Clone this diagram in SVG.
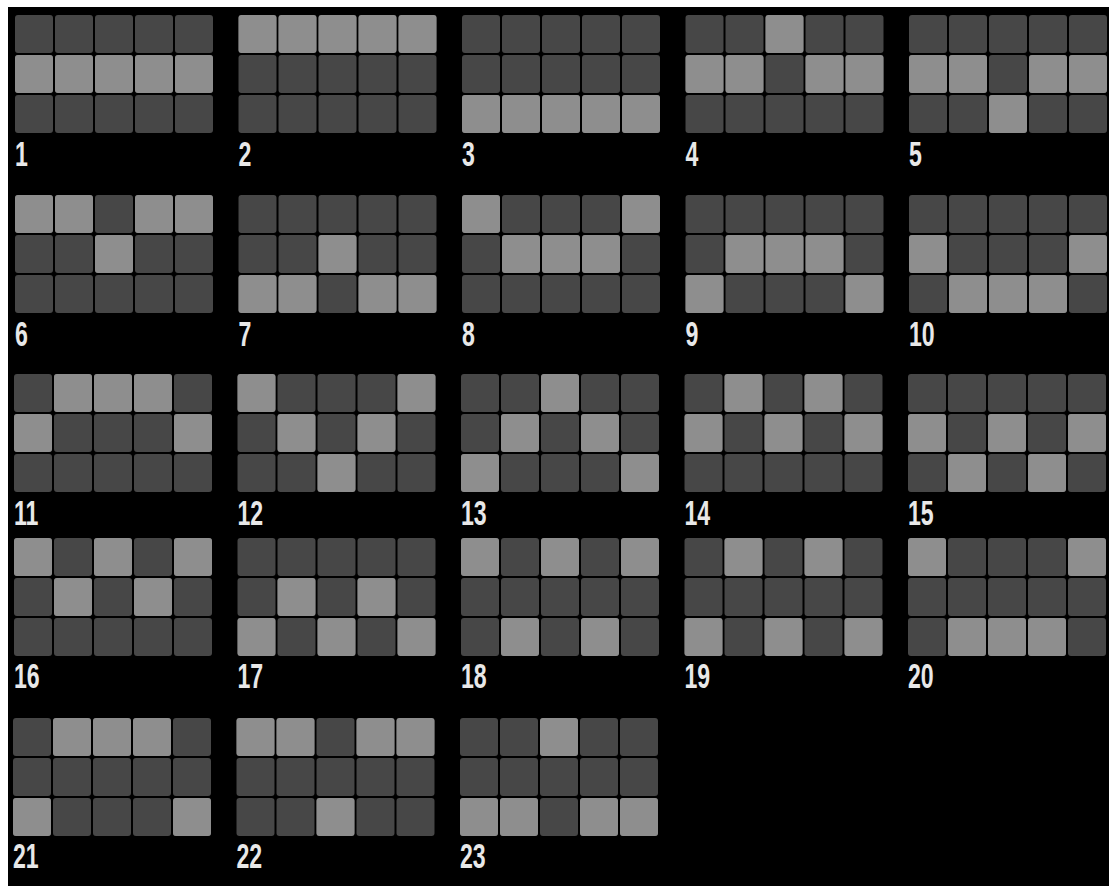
<svg xmlns="http://www.w3.org/2000/svg" xmlns:xlink="http://www.w3.org/1999/xlink" width="1109" height="886" viewBox="0 0 1109 886">
<style>
.cell{fill:#474747}
.on{fill:#8e8e8e}
.lbl{font-family:"Liberation Sans",Arial,sans-serif;font-size:35px;font-weight:bold;fill:#e8e8e8}
</style>
<defs>
<g id="base">
<rect class="cell" x="0" y="0" width="38" height="38" rx="3"/><rect class="cell" x="40" y="0" width="38" height="38" rx="3"/><rect class="cell" x="80" y="0" width="38" height="38" rx="3"/><rect class="cell" x="120" y="0" width="38" height="38" rx="3"/><rect class="cell" x="160" y="0" width="38" height="38" rx="3"/>
<rect class="cell" x="0" y="40" width="38" height="38" rx="3"/><rect class="cell" x="40" y="40" width="38" height="38" rx="3"/><rect class="cell" x="80" y="40" width="38" height="38" rx="3"/><rect class="cell" x="120" y="40" width="38" height="38" rx="3"/><rect class="cell" x="160" y="40" width="38" height="38" rx="3"/>
<rect class="cell" x="0" y="80" width="38" height="38" rx="3"/><rect class="cell" x="40" y="80" width="38" height="38" rx="3"/><rect class="cell" x="80" y="80" width="38" height="38" rx="3"/><rect class="cell" x="120" y="80" width="38" height="38" rx="3"/><rect class="cell" x="160" y="80" width="38" height="38" rx="3"/>
</g>
</defs>
<rect x="0" y="0" width="1109" height="886" fill="#ffffff"/>
<rect x="8" y="7" width="1101" height="879" fill="#000000"/>

<g id="line-1" transform="translate(15,15)"><use xlink:href="#base"/>
<rect class="on" x="0" y="40" width="38" height="38" rx="3"/><rect class="on" x="40" y="40" width="38" height="38" rx="3"/><rect class="on" x="80" y="40" width="38" height="38" rx="3"/><rect class="on" x="120" y="40" width="38" height="38" rx="3"/><rect class="on" x="160" y="40" width="38" height="38" rx="3"/>
<text class="lbl" transform="translate(0,151) scale(0.66,1)">1</text></g>

<g id="line-2" transform="translate(238.5,15)"><use xlink:href="#base"/>
<rect class="on" x="0" y="0" width="38" height="38" rx="3"/><rect class="on" x="40" y="0" width="38" height="38" rx="3"/><rect class="on" x="80" y="0" width="38" height="38" rx="3"/><rect class="on" x="120" y="0" width="38" height="38" rx="3"/><rect class="on" x="160" y="0" width="38" height="38" rx="3"/>
<text class="lbl" transform="translate(0,151) scale(0.66,1)">2</text></g>

<g id="line-3" transform="translate(462,15)"><use xlink:href="#base"/>
<rect class="on" x="0" y="80" width="38" height="38" rx="3"/><rect class="on" x="40" y="80" width="38" height="38" rx="3"/><rect class="on" x="80" y="80" width="38" height="38" rx="3"/><rect class="on" x="120" y="80" width="38" height="38" rx="3"/><rect class="on" x="160" y="80" width="38" height="38" rx="3"/>
<text class="lbl" transform="translate(0,151) scale(0.66,1)">3</text></g>

<g id="line-4" transform="translate(685.5,15)"><use xlink:href="#base"/>
<rect class="on" x="0" y="40" width="38" height="38" rx="3"/><rect class="on" x="40" y="40" width="38" height="38" rx="3"/><rect class="on" x="80" y="0" width="38" height="38" rx="3"/><rect class="on" x="120" y="40" width="38" height="38" rx="3"/><rect class="on" x="160" y="40" width="38" height="38" rx="3"/>
<text class="lbl" transform="translate(0,151) scale(0.66,1)">4</text></g>

<g id="line-5" transform="translate(909,15)"><use xlink:href="#base"/>
<rect class="on" x="0" y="40" width="38" height="38" rx="3"/><rect class="on" x="40" y="40" width="38" height="38" rx="3"/><rect class="on" x="80" y="80" width="38" height="38" rx="3"/><rect class="on" x="120" y="40" width="38" height="38" rx="3"/><rect class="on" x="160" y="40" width="38" height="38" rx="3"/>
<text class="lbl" transform="translate(0,151) scale(0.66,1)">5</text></g>

<g id="line-6" transform="translate(15,195)"><use xlink:href="#base"/>
<rect class="on" x="0" y="0" width="38" height="38" rx="3"/><rect class="on" x="40" y="0" width="38" height="38" rx="3"/><rect class="on" x="80" y="40" width="38" height="38" rx="3"/><rect class="on" x="120" y="0" width="38" height="38" rx="3"/><rect class="on" x="160" y="0" width="38" height="38" rx="3"/>
<text class="lbl" transform="translate(0,151) scale(0.66,1)">6</text></g>

<g id="line-7" transform="translate(238.5,195)"><use xlink:href="#base"/>
<rect class="on" x="0" y="80" width="38" height="38" rx="3"/><rect class="on" x="40" y="80" width="38" height="38" rx="3"/><rect class="on" x="80" y="40" width="38" height="38" rx="3"/><rect class="on" x="120" y="80" width="38" height="38" rx="3"/><rect class="on" x="160" y="80" width="38" height="38" rx="3"/>
<text class="lbl" transform="translate(0,151) scale(0.66,1)">7</text></g>

<g id="line-8" transform="translate(462,195)"><use xlink:href="#base"/>
<rect class="on" x="0" y="0" width="38" height="38" rx="3"/><rect class="on" x="40" y="40" width="38" height="38" rx="3"/><rect class="on" x="80" y="40" width="38" height="38" rx="3"/><rect class="on" x="120" y="40" width="38" height="38" rx="3"/><rect class="on" x="160" y="0" width="38" height="38" rx="3"/>
<text class="lbl" transform="translate(0,151) scale(0.66,1)">8</text></g>

<g id="line-9" transform="translate(685.5,195)"><use xlink:href="#base"/>
<rect class="on" x="0" y="80" width="38" height="38" rx="3"/><rect class="on" x="40" y="40" width="38" height="38" rx="3"/><rect class="on" x="80" y="40" width="38" height="38" rx="3"/><rect class="on" x="120" y="40" width="38" height="38" rx="3"/><rect class="on" x="160" y="80" width="38" height="38" rx="3"/>
<text class="lbl" transform="translate(0,151) scale(0.66,1)">9</text></g>

<g id="line-10" transform="translate(909,195)"><use xlink:href="#base"/>
<rect class="on" x="0" y="40" width="38" height="38" rx="3"/><rect class="on" x="40" y="80" width="38" height="38" rx="3"/><rect class="on" x="80" y="80" width="38" height="38" rx="3"/><rect class="on" x="120" y="80" width="38" height="38" rx="3"/><rect class="on" x="160" y="40" width="38" height="38" rx="3"/>
<text class="lbl" transform="translate(0,151) scale(0.66,1)">10</text></g>

<g id="line-11" transform="translate(14,374)"><use xlink:href="#base"/>
<rect class="on" x="0" y="40" width="38" height="38" rx="3"/><rect class="on" x="40" y="0" width="38" height="38" rx="3"/><rect class="on" x="80" y="0" width="38" height="38" rx="3"/><rect class="on" x="120" y="0" width="38" height="38" rx="3"/><rect class="on" x="160" y="40" width="38" height="38" rx="3"/>
<text class="lbl" transform="translate(0,151) scale(0.66,1)">11</text></g>

<g id="line-12" transform="translate(237.5,374)"><use xlink:href="#base"/>
<rect class="on" x="0" y="0" width="38" height="38" rx="3"/><rect class="on" x="40" y="40" width="38" height="38" rx="3"/><rect class="on" x="80" y="80" width="38" height="38" rx="3"/><rect class="on" x="120" y="40" width="38" height="38" rx="3"/><rect class="on" x="160" y="0" width="38" height="38" rx="3"/>
<text class="lbl" transform="translate(0,151) scale(0.66,1)">12</text></g>

<g id="line-13" transform="translate(461,374)"><use xlink:href="#base"/>
<rect class="on" x="0" y="80" width="38" height="38" rx="3"/><rect class="on" x="40" y="40" width="38" height="38" rx="3"/><rect class="on" x="80" y="0" width="38" height="38" rx="3"/><rect class="on" x="120" y="40" width="38" height="38" rx="3"/><rect class="on" x="160" y="80" width="38" height="38" rx="3"/>
<text class="lbl" transform="translate(0,151) scale(0.66,1)">13</text></g>

<g id="line-14" transform="translate(684.5,374)"><use xlink:href="#base"/>
<rect class="on" x="0" y="40" width="38" height="38" rx="3"/><rect class="on" x="40" y="0" width="38" height="38" rx="3"/><rect class="on" x="80" y="40" width="38" height="38" rx="3"/><rect class="on" x="120" y="0" width="38" height="38" rx="3"/><rect class="on" x="160" y="40" width="38" height="38" rx="3"/>
<text class="lbl" transform="translate(0,151) scale(0.66,1)">14</text></g>

<g id="line-15" transform="translate(908,374)"><use xlink:href="#base"/>
<rect class="on" x="0" y="40" width="38" height="38" rx="3"/><rect class="on" x="40" y="80" width="38" height="38" rx="3"/><rect class="on" x="80" y="40" width="38" height="38" rx="3"/><rect class="on" x="120" y="80" width="38" height="38" rx="3"/><rect class="on" x="160" y="40" width="38" height="38" rx="3"/>
<text class="lbl" transform="translate(0,151) scale(0.66,1)">15</text></g>

<g id="line-16" transform="translate(14,538)"><use xlink:href="#base"/>
<rect class="on" x="0" y="0" width="38" height="38" rx="3"/><rect class="on" x="40" y="40" width="38" height="38" rx="3"/><rect class="on" x="80" y="0" width="38" height="38" rx="3"/><rect class="on" x="120" y="40" width="38" height="38" rx="3"/><rect class="on" x="160" y="0" width="38" height="38" rx="3"/>
<text class="lbl" transform="translate(0,150) scale(0.66,1)">16</text></g>

<g id="line-17" transform="translate(237.5,538)"><use xlink:href="#base"/>
<rect class="on" x="0" y="80" width="38" height="38" rx="3"/><rect class="on" x="40" y="40" width="38" height="38" rx="3"/><rect class="on" x="80" y="80" width="38" height="38" rx="3"/><rect class="on" x="120" y="40" width="38" height="38" rx="3"/><rect class="on" x="160" y="80" width="38" height="38" rx="3"/>
<text class="lbl" transform="translate(0,150) scale(0.66,1)">17</text></g>

<g id="line-18" transform="translate(461,538)"><use xlink:href="#base"/>
<rect class="on" x="0" y="0" width="38" height="38" rx="3"/><rect class="on" x="40" y="80" width="38" height="38" rx="3"/><rect class="on" x="80" y="0" width="38" height="38" rx="3"/><rect class="on" x="120" y="80" width="38" height="38" rx="3"/><rect class="on" x="160" y="0" width="38" height="38" rx="3"/>
<text class="lbl" transform="translate(0,150) scale(0.66,1)">18</text></g>

<g id="line-19" transform="translate(684.5,538)"><use xlink:href="#base"/>
<rect class="on" x="0" y="80" width="38" height="38" rx="3"/><rect class="on" x="40" y="0" width="38" height="38" rx="3"/><rect class="on" x="80" y="80" width="38" height="38" rx="3"/><rect class="on" x="120" y="0" width="38" height="38" rx="3"/><rect class="on" x="160" y="80" width="38" height="38" rx="3"/>
<text class="lbl" transform="translate(0,150) scale(0.66,1)">19</text></g>

<g id="line-20" transform="translate(908,538)"><use xlink:href="#base"/>
<rect class="on" x="0" y="0" width="38" height="38" rx="3"/><rect class="on" x="40" y="80" width="38" height="38" rx="3"/><rect class="on" x="80" y="80" width="38" height="38" rx="3"/><rect class="on" x="120" y="80" width="38" height="38" rx="3"/><rect class="on" x="160" y="0" width="38" height="38" rx="3"/>
<text class="lbl" transform="translate(0,150) scale(0.66,1)">20</text></g>

<g id="line-21" transform="translate(13,718)"><use xlink:href="#base"/>
<rect class="on" x="0" y="80" width="38" height="38" rx="3"/><rect class="on" x="40" y="0" width="38" height="38" rx="3"/><rect class="on" x="80" y="0" width="38" height="38" rx="3"/><rect class="on" x="120" y="0" width="38" height="38" rx="3"/><rect class="on" x="160" y="80" width="38" height="38" rx="3"/>
<text class="lbl" transform="translate(0,150) scale(0.66,1)">21</text></g>

<g id="line-22" transform="translate(236.5,718)"><use xlink:href="#base"/>
<rect class="on" x="0" y="0" width="38" height="38" rx="3"/><rect class="on" x="40" y="0" width="38" height="38" rx="3"/><rect class="on" x="80" y="80" width="38" height="38" rx="3"/><rect class="on" x="120" y="0" width="38" height="38" rx="3"/><rect class="on" x="160" y="0" width="38" height="38" rx="3"/>
<text class="lbl" transform="translate(0,150) scale(0.66,1)">22</text></g>

<g id="line-23" transform="translate(460,718)"><use xlink:href="#base"/>
<rect class="on" x="0" y="80" width="38" height="38" rx="3"/><rect class="on" x="40" y="80" width="38" height="38" rx="3"/><rect class="on" x="80" y="0" width="38" height="38" rx="3"/><rect class="on" x="120" y="80" width="38" height="38" rx="3"/><rect class="on" x="160" y="80" width="38" height="38" rx="3"/>
<text class="lbl" transform="translate(0,150) scale(0.66,1)">23</text></g>
</svg>
